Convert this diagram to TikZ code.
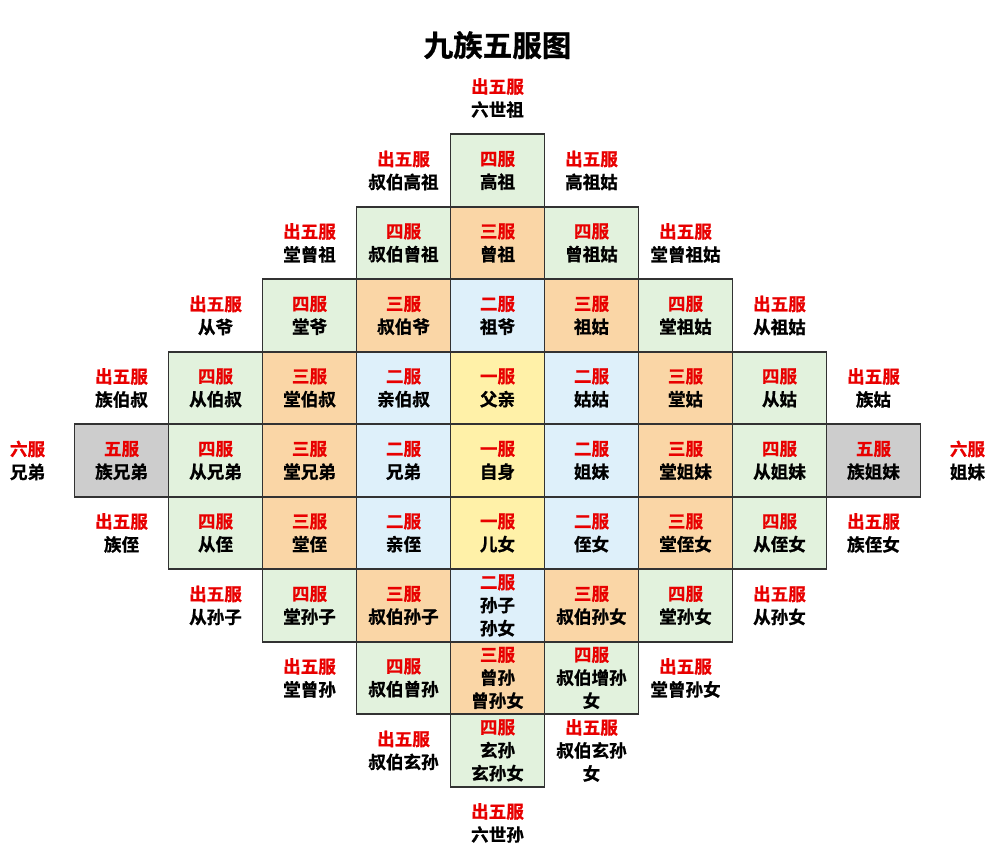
\documentclass[tikz,border=0pt]{standalone}
\usepackage{fontspec}
\setmainfont{Noto Sans CJK SC}[BoldFont={Noto Sans CJK SC Bold}, BoldFeatures={FakeBold=1}]
\definecolor{fuone}{RGB}{255,241,168}
\definecolor{futwo}{RGB}{222,240,250}
\definecolor{futhree}{RGB}{250,214,166}
\definecolor{fufour}{RGB}{226,242,221}
\definecolor{fufive}{RGB}{205,205,205}
\definecolor{fuline}{RGB}{50,50,50}
\definecolor{fured}{RGB}{232,0,0}
\begin{document}
\begin{tikzpicture}[x=2.35cm, y=1.8125cm,
  cell/.style={draw=fuline, line width=1.3pt, minimum width=2.35cm, minimum height=1.8125cm, inner sep=0pt, align=center, font=\bfseries\fontsize{12.5}{16.4}\selectfont},
  cell1/.style={cell, fill=fuone},
  cell2/.style={cell, fill=futwo},
  cell3/.style={cell, fill=futhree},
  cell4/.style={cell, fill=fufour},
  cell5/.style={cell, fill=fufive},
  rimlabel/.style={inner sep=0pt, align=center, font=\bfseries\fontsize{12.5}{16.4}\selectfont}]
\fill[white] (-5.293,6.352) rectangle (5.346,-5.414);
\useasboundingbox (-5.293,6.352) rectangle (5.346,-5.414);
\node[font=\bfseries\fontsize{21}{24}\selectfont] (title) at (0,5.73){九族五服图};
\node[cell4] (cid0) at (0,4){\textcolor{fured}{四服}\\高祖};
\node[cell4] (cid1) at (-1,3){\textcolor{fured}{四服}\\叔伯曾祖};
\node[cell3] (cid2) at (0,3){\textcolor{fured}{三服}\\曾祖};
\node[cell4] (cid3) at (1,3){\textcolor{fured}{四服}\\曾祖姑};
\node[cell4] (cid4) at (-2,2){\textcolor{fured}{四服}\\堂爷};
\node[cell3] (cid5) at (-1,2){\textcolor{fured}{三服}\\叔伯爷};
\node[cell2] (cid6) at (0,2){\textcolor{fured}{二服}\\祖爷};
\node[cell3] (cid7) at (1,2){\textcolor{fured}{三服}\\祖姑};
\node[cell4] (cid8) at (2,2){\textcolor{fured}{四服}\\堂祖姑};
\node[cell4] (cid9) at (-3,1){\textcolor{fured}{四服}\\从伯叔};
\node[cell3] (cid10) at (-2,1){\textcolor{fured}{三服}\\堂伯叔};
\node[cell2] (cid11) at (-1,1){\textcolor{fured}{二服}\\亲伯叔};
\node[cell1] (cid12) at (0,1){\textcolor{fured}{一服}\\父亲};
\node[cell2] (cid13) at (1,1){\textcolor{fured}{二服}\\姑姑};
\node[cell3] (cid14) at (2,1){\textcolor{fured}{三服}\\堂姑};
\node[cell4] (cid15) at (3,1){\textcolor{fured}{四服}\\从姑};
\node[cell5] (cid16) at (-4,0){\textcolor{fured}{五服}\\族兄弟};
\node[cell4] (cid17) at (-3,0){\textcolor{fured}{四服}\\从兄弟};
\node[cell3] (cid18) at (-2,0){\textcolor{fured}{三服}\\堂兄弟};
\node[cell2] (cid19) at (-1,0){\textcolor{fured}{二服}\\兄弟};
\node[cell1] (cid20) at (0,0){\textcolor{fured}{一服}\\自身};
\node[cell2] (cid21) at (1,0){\textcolor{fured}{二服}\\姐妹};
\node[cell3] (cid22) at (2,0){\textcolor{fured}{三服}\\堂姐妹};
\node[cell4] (cid23) at (3,0){\textcolor{fured}{四服}\\从姐妹};
\node[cell5] (cid24) at (4,0){\textcolor{fured}{五服}\\族姐妹};
\node[cell4] (cid25) at (-3,-1){\textcolor{fured}{四服}\\从侄};
\node[cell3] (cid26) at (-2,-1){\textcolor{fured}{三服}\\堂侄};
\node[cell2] (cid27) at (-1,-1){\textcolor{fured}{二服}\\亲侄};
\node[cell1] (cid28) at (0,-1){\textcolor{fured}{一服}\\儿女};
\node[cell2] (cid29) at (1,-1){\textcolor{fured}{二服}\\侄女};
\node[cell3] (cid30) at (2,-1){\textcolor{fured}{三服}\\堂侄女};
\node[cell4] (cid31) at (3,-1){\textcolor{fured}{四服}\\从侄女};
\node[cell4] (cid32) at (-2,-2){\textcolor{fured}{四服}\\堂孙子};
\node[cell3] (cid33) at (-1,-2){\textcolor{fured}{三服}\\叔伯孙子};
\node[cell2] (cid34) at (0,-2){\textcolor{fured}{二服}\\孙子\\孙女};
\node[cell3] (cid35) at (1,-2){\textcolor{fured}{三服}\\叔伯孙女};
\node[cell4] (cid36) at (2,-2){\textcolor{fured}{四服}\\堂孙女};
\node[cell4] (cid37) at (-1,-3){\textcolor{fured}{四服}\\叔伯曾孙};
\node[cell3] (cid38) at (0,-3){\textcolor{fured}{三服}\\曾孙\\曾孙女};
\node[cell4] (cid39) at (1,-3){\textcolor{fured}{四服}\\叔伯增孙\\女};
\node[cell4] (cid40) at (0,-4){\textcolor{fured}{四服}\\玄孙\\玄孙女};
\node[rimlabel] (oid0) at (0,5){\textcolor{fured}{出五服}\\六世祖};
\node[rimlabel] (oid1) at (-1,4){\textcolor{fured}{出五服}\\叔伯高祖};
\node[rimlabel] (oid2) at (1,4){\textcolor{fured}{出五服}\\高祖姑};
\node[rimlabel] (oid3) at (-2,3){\textcolor{fured}{出五服}\\堂曾祖};
\node[rimlabel] (oid4) at (2,3){\textcolor{fured}{出五服}\\堂曾祖姑};
\node[rimlabel] (oid5) at (-3,2){\textcolor{fured}{出五服}\\从爷};
\node[rimlabel] (oid6) at (3,2){\textcolor{fured}{出五服}\\从祖姑};
\node[rimlabel] (oid7) at (-4,1){\textcolor{fured}{出五服}\\族伯叔};
\node[rimlabel] (oid8) at (4,1){\textcolor{fured}{出五服}\\族姑};
\node[rimlabel] (oid9) at (-5,0){\textcolor{fured}{六服}\\兄弟};
\node[rimlabel] (oid10) at (5,0){\textcolor{fured}{六服}\\姐妹};
\node[rimlabel] (oid11) at (-4,-1){\textcolor{fured}{出五服}\\族侄};
\node[rimlabel] (oid12) at (4,-1){\textcolor{fured}{出五服}\\族侄女};
\node[rimlabel] (oid13) at (-3,-2){\textcolor{fured}{出五服}\\从孙子};
\node[rimlabel] (oid14) at (3,-2){\textcolor{fured}{出五服}\\从孙女};
\node[rimlabel] (oid15) at (-2,-3){\textcolor{fured}{出五服}\\堂曾孙};
\node[rimlabel] (oid16) at (2,-3){\textcolor{fured}{出五服}\\堂曾孙女};
\node[rimlabel] (oid17) at (-1,-4){\textcolor{fured}{出五服}\\叔伯玄孙};
\node[rimlabel] (oid18) at (1,-4){\textcolor{fured}{出五服}\\叔伯玄孙\\女};
\node[rimlabel] (oid19) at (0,-5){\textcolor{fured}{出五服}\\六世孙};
\end{tikzpicture}
\end{document}
